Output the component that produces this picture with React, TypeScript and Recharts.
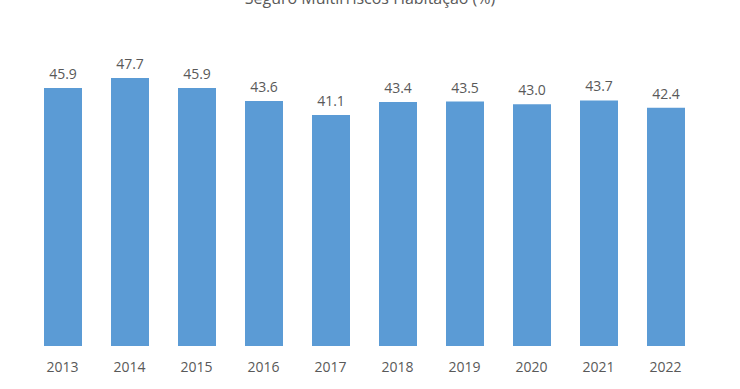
import { BarChart, Bar, XAxis, YAxis, LabelList } from "recharts";

const YEARS = ["2013", "2014", "2015", "2016", "2017", "2018", "2019", "2020", "2021", "2022"];
const VALUES = [45.9, 47.7, 45.9, 43.6, 41.1, 43.4, 43.5, 43.0, 43.7, 42.4];
const TITLE = "Seguro Multirriscos Habitação (%)";

const TEXT_COLOR = "#595959";
const BAR_COLOR = "#5B9BD5";
const FONT = "'Open Sans', 'DejaVu Sans', sans-serif";

const data = YEARS.map((year, i) => ({ year, value: VALUES[i] }));

export default function App() {
  return (
    <div
      style={{
        position: "absolute",
        left: 0,
        top: 0,
        width: 740,
        height: 389,
        overflow: "hidden",
        background: "#fff",
        fontFamily: FONT,
      }}
    >
      <div
        style={{
          position: "absolute",
          top: -12,
          left: 0,
          width: 740,
          textAlign: "center",
          fontSize: 16,
          lineHeight: "20px",
          color: TEXT_COLOR,
        }}
      >
        {TITLE}
      </div>
      <BarChart
        width={740}
        height={389}
        data={data}
        margin={{ top: 65, right: 41, left: 29, bottom: 13 }}
        barSize={38}
      >
        <XAxis
          dataKey="year"
          axisLine={false}
          tickLine={false}
          height={30}
          tickMargin={10}
          tick={{ fontSize: 14, fill: TEXT_COLOR, fontFamily: FONT }}
        />
        <YAxis hide domain={[0, 50]} />
        <Bar dataKey="value" fill={BAR_COLOR} isAnimationActive={false}>
          <LabelList
            dataKey="value"
            position="top"
            offset={9}
            formatter={(v: number) => v.toFixed(1)}
            style={{ fontSize: 14, fill: TEXT_COLOR, fontFamily: FONT }}
          />
        </Bar>
      </BarChart>
    </div>
  );
}
